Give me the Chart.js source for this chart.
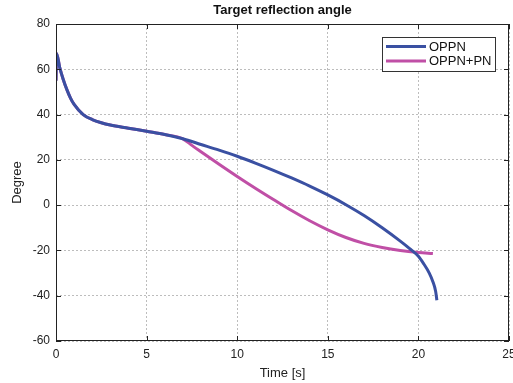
<!DOCTYPE html>
<html>
<head>
<meta charset="utf-8">
<script src="https://cdn.jsdelivr.net/npm/chart.js@4/dist/chart.umd.min.js"></script>
<style>
  html, body { margin: 0; padding: 0; background: #fff; }
  canvas { display: block; }
</style>
</head>
<body>
<canvas id="c" width="513" height="383"></canvas>
<script>
// values
const sharedTime = [0, 0.03, 0.2, 0.4, 0.6, 0.8, 1, 1.5, 2, 2.5, 3, 4, 5, 6, 7];
const sharedDeg  = [55, 67, 61, 55.5, 51, 47.3, 44.5, 40, 37.8, 36.4, 35.4, 34, 32.6, 31.2, 29.3];

const oppnTime = [8, 9, 10, 11, 12, 13, 14, 15, 16, 17, 18, 19, 19.5, 20, 20.3, 20.6, 20.8, 20.95, 21.02];
const oppnDeg  = [26.8, 24.3, 21.6, 18.6, 15.4, 12, 8.4, 4.5, 0.2, -4.6, -10, -15.9, -19.1, -22.6, -26, -30, -33.8, -38, -42];

const pnTime = [7.5, 8, 9, 10, 11, 12, 13, 14, 15, 16, 17, 18, 19, 20, 20.8];
const pnDeg  = [26.4, 23.6, 18.1, 12.7, 7.5, 2.5, -2.4, -6.9, -10.9, -14.3, -16.9, -18.7, -20, -20.9, -21.4];

const xTicks = [0, 5, 10, 15, 20, 25];
const yTicks = [-60, -40, -20, 0, 20, 40, 60, 80];

const toPts = (t, v) => t.map((x, i) => ({ x: x, y: v[i] }));

const FONT = 'Liberation Sans, Arial, Helvetica, sans-serif';

// black box round the axes with inward ticks, MATLAB style
const boxPlugin = {
  id: 'box',
  afterDatasetsDraw(chart) {
    const { ctx, chartArea: a, scales } = chart;
    ctx.save();
    ctx.strokeStyle = '#222';
    ctx.lineWidth = 1;
    ctx.strokeRect(a.left + 0.5, a.top + 0.5, a.right - a.left - 1, a.bottom - a.top - 1);
    ctx.beginPath();
    scales.x.ticks.forEach(t => {
      const px = Math.round(scales.x.getPixelForValue(t.value)) + 0.5;
      ctx.moveTo(px, a.bottom); ctx.lineTo(px, a.bottom - 5);
      ctx.moveTo(px, a.top); ctx.lineTo(px, a.top + 5);
    });
    scales.y.ticks.forEach(t => {
      const py = Math.round(scales.y.getPixelForValue(t.value)) + 0.5;
      ctx.moveTo(a.left, py); ctx.lineTo(a.left + 5, py);
      ctx.moveTo(a.right, py); ctx.lineTo(a.right - 5, py);
    });
    ctx.stroke();
    ctx.restore();
  }
};

// legend box in the upper right corner
const legendPlugin = {
  id: 'boxLegend',
  afterDraw(chart) {
    const { ctx } = chart;
    const items = chart.data.datasets.filter(d => d.label);
    const x0 = 382, y0 = 37, w = 113, rowH = 14.5;
    ctx.save();
    ctx.fillStyle = '#fff';
    ctx.fillRect(x0, y0, w, 34);
    ctx.strokeStyle = '#333';
    ctx.lineWidth = 1;
    ctx.strokeRect(x0 + 0.5, y0 + 0.5, w, 34);
    ctx.font = '13px ' + FONT;
    ctx.textBaseline = 'middle';
    items.forEach((d, i) => {
      const y = y0 + 9.5 + i * rowH;
      ctx.strokeStyle = d.borderColor;
      ctx.lineWidth = 3;
      ctx.beginPath();
      ctx.moveTo(x0 + 4, y); ctx.lineTo(x0 + 44, y);
      ctx.stroke();
      ctx.fillStyle = '#111';
      ctx.fillText(d.label, x0 + 47, y + 0.5);
    });
    ctx.restore();
  }
};

const BLUE = '#3a50a2';
const MAGENTA = '#c04fa6';

new Chart(document.getElementById('c'), {
  type: 'line',
  data: {
    datasets: [
      { label: 'OPPN', data: toPts(sharedTime, sharedDeg).concat(toPts(oppnTime, oppnDeg)),
        borderColor: BLUE, borderWidth: 3, pointRadius: 0, cubicInterpolationMode: 'monotone', fill: false },
      { label: 'OPPN+PN', data: toPts(sharedTime, sharedDeg).concat(toPts(pnTime, pnDeg)),
        borderColor: MAGENTA, borderWidth: 3, pointRadius: 0, cubicInterpolationMode: 'monotone', fill: false }
    ]
  },
  options: {
    responsive: false,
    animation: false,
    layout: { autoPadding: false, padding: { left: 0, right: 4, top: 0, bottom: 0 } },
    plugins: {
      legend: { display: false },
      tooltip: { enabled: false },
      title: {
        display: true,
        fullSize: false,
        text: 'Target reflection angle',
        color: '#111',
        font: { family: FONT, size: 13, weight: 'bold' },
        padding: { top: 3, bottom: 5.4 }
      }
    },
    scales: {
      x: {
        type: 'linear',
        min: 0, max: 25,
        afterBuildTicks: s => { s.ticks = xTicks.map(v => ({ value: v })); },
        afterFit: s => { s.height = 42; s.paddingLeft = 0; s.paddingRight = 0; },
        grid: { color: 'rgba(0,0,0,0.26)', drawTicks: false },
        border: { display: false, dash: [2, 2] },
        ticks: { color: '#222', padding: 6, font: { family: FONT, size: 12 } },
        title: { display: true, text: 'Time [s]', color: '#222', padding: { top: 2, bottom: 2 },
                 font: { family: FONT, size: 13 } }
      },
      y: {
        min: -60, max: 80,
        afterBuildTicks: s => { s.ticks = yTicks.map(v => ({ value: v })); },
        afterFit: s => { s.width = 56; s.paddingTop = 0; s.paddingBottom = 0; },
        grid: { color: 'rgba(0,0,0,0.26)', drawTicks: false },
        border: { display: false, dash: [2, 2] },
        ticks: { color: '#222', padding: 6, font: { family: FONT, size: 12 } },
        title: { display: true, text: 'Degree', color: '#222', padding: { top: 10, bottom: 0 },
                 font: { family: FONT, size: 13 } }
      }
    }
  },
  plugins: [boxPlugin, legendPlugin]
});
</script>
</body>
</html>
